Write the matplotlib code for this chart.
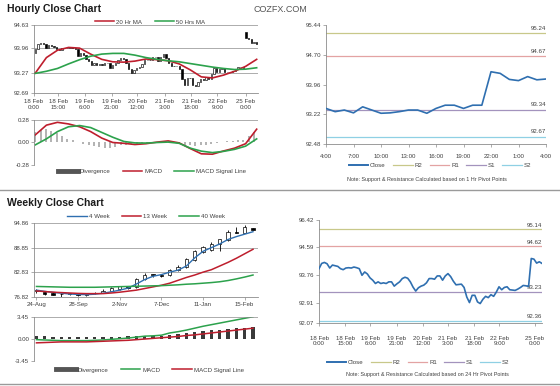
import numpy as np
import matplotlib
matplotlib.use("Agg")
import matplotlib.pyplot as plt
from matplotlib.lines import Line2D

plt.rcParams["font.family"] = ["Liberation Sans", "DejaVu Sans"]

W, H = 560, 386

# ---- hourly closes, 18 Feb 0:00 -> 25 Feb (shared by candles and 24 hr pivot chart)
hour_close = [93.94, 94.10, 94.13, 94.09, 93.96, 94.05, 94.03, 94.01, 93.94, 93.91,
              93.96, 93.97, 93.96, 93.99, 93.97, 93.94, 93.74, 93.84, 93.78, 93.66,
              93.59, 93.49, 93.54, 93.49, 93.51, 93.49, 93.54, 93.54, 93.41, 93.48,
              93.54, 93.64, 93.68, 93.65, 93.54, 93.38, 93.26, 93.36, 93.41, 93.44,
              93.51, 93.64, 93.64, 93.62, 93.72, 93.72, 93.59, 93.72, 93.79, 93.70,
              93.56, 93.45, 93.46, 93.47, 93.37, 93.08, 92.91, 93.13, 93.13, 92.93,
              92.88, 93.01, 93.10, 93.06, 93.15, 93.10, 93.23, 93.39, 93.30, 93.37,
              93.39, 93.30, 93.29, 93.28, 93.32, 93.37, 93.43, 93.42, 93.40, 94.25,
              94.23, 94.11, 94.15, 94.10]
hour_open = [93.84, 93.94, 94.10, 94.13, 94.09, 93.96, 94.05, 94.03, 94.01, 93.94,
             93.91, 93.96, 93.97, 93.96, 93.99, 93.97, 93.94, 93.74, 93.84, 93.78,
             93.66, 93.59, 93.49, 93.54, 93.49, 93.51, 93.49, 93.54, 93.54, 93.41,
             93.48, 93.54, 93.64, 93.68, 93.65, 93.54, 93.38, 93.26, 93.36, 93.41,
             93.44, 93.51, 93.64, 93.64, 93.62, 93.72, 93.72, 93.59, 93.72, 93.79,
             93.70, 93.56, 93.45, 93.46, 93.47, 93.37, 93.08, 92.91, 93.13, 93.13,
             92.93, 92.88, 93.01, 93.10, 93.06, 93.15, 93.10, 93.23, 93.39, 93.30,
             93.37, 93.39, 93.30, 93.29, 93.28, 93.32, 93.37, 93.43, 93.42, 94.42,
             94.25, 94.23, 94.11, 94.15]
hour_labels = ["18 Feb\n0:00", "18 Feb\n15:00", "19 Feb\n6:00", "19 Feb\n21:00",
               "20 Feb\n12:00", "21 Feb\n3:00", "21 Feb\n18:00", "22 Feb\n9:00",
               "25 Feb\n0:00"]

# moving averages / MACD, read every ~4 hours
ma_20hr = [93.26, 93.70, 93.91, 93.99, 93.97, 93.80, 93.65, 93.58, 93.57, 93.60, 93.66,
           93.64, 93.61, 93.52, 93.35, 93.15, 93.12, 93.20, 93.31, 93.45, 93.65]
ma_50hr = [93.25, 93.31, 93.39, 93.52, 93.64, 93.74, 93.80, 93.82, 93.82, 93.77, 93.70,
           93.65, 93.61, 93.58, 93.53, 93.48, 93.43, 93.39, 93.36, 93.37, 93.41]
hour_macd = [0.09, 0.21, 0.245, 0.225, 0.19, 0.13, 0.05, -0.005, -0.015, -0.03, -0.02,
             0.0, 0.015, -0.01, -0.08, -0.145, -0.15, -0.11, -0.075, -0.02, 0.16]
hour_signal = [-0.034, 0.04, 0.13, 0.19, 0.205, 0.18, 0.12, 0.06, 0.008, -0.01, -0.012,
               -0.005, 0.0, -0.015, -0.075, -0.112, -0.13, -0.115, -0.09, -0.05, 0.04]
# divergence, every 2 hours
hour_div = [0.12, 0.15, 0.16, 0.14, 0.11, 0.07, 0.04, 0.02, 0.0, -0.02, -0.04, -0.05,
            -0.06, -0.07, -0.07, -0.06, -0.04, -0.03, -0.02, -0.02, -0.01, -0.01, 0.0,
            0.005, 0.01, 0.015, 0.005, -0.01, -0.03, -0.04, -0.05, -0.04, -0.03, -0.02,
            -0.01, 0.005, 0.01, 0.015, 0.02, 0.03, 0.08, 0.12]

# ---- last 24 hours, 1 hr pivots
one_hr_close = [93.37, 93.29, 93.33, 93.26, 93.41, 93.33, 93.25, 93.26, 93.29, 93.33,
                93.33, 93.25, 93.37, 93.45, 93.45, 93.37, 93.45, 93.45, 94.28, 94.24,
                94.09, 94.06, 94.16, 94.08, 94.10]
one_hr_labels = ["4:00", "7:00", "10:00", "13:00", "16:00", "19:00", "22:00", "1:00", "4:00"]
one_hr_levels = [95.24, 94.67, 93.34, 92.67]   # R2, R1, S1, S2
day_levels = [95.14, 94.62, 93.23, 92.36]      # 24 hr pivots
level_names = ["R2", "R1", "S1", "S2"]

# ---- weekly candles
week_labels = ["24-Aug", "28-Sep", "2-Nov", "7-Dec", "11-Jan", "15-Feb"]
week_open = [78.3, 78.0, 77.8, 77.5, 77.5, 77.7, 77.3, 77.7, 77.9, 78.4, 78.7, 79.4, 79.3,
             81.2, 82.4, 82.2, 82.1, 83.5, 84.1, 85.9, 87.9, 88.3, 89.7, 90.8, 92.8, 92.6, 93.6]
week_close = [78.6, 77.5, 77.3, 77.6, 77.7, 77.3, 77.7, 77.9, 78.4, 79.1, 79.4, 79.0, 81.2,
              82.3, 82.2, 82.0, 83.5, 84.2, 86.0, 88.0, 89.1, 89.9, 90.9, 92.8, 92.6, 93.9, 93.2]
week_high = [78.9, 78.2, 78.1, 77.8, 77.9, 77.9, 77.9, 78.1, 78.7, 79.3, 79.6, 79.6, 81.5,
             82.6, 82.5, 82.4, 83.7, 84.6, 86.4, 88.3, 89.4, 90.2, 91.1, 93.1, 93.9, 94.4, 93.7]
week_low = [77.9, 77.4, 77.2, 76.4, 77.2, 77.0, 77.1, 77.5, 77.8, 78.2, 78.5, 78.8, 79.0,
            81.0, 81.8, 81.6, 82.0, 83.2, 83.9, 85.6, 87.5, 88.0, 88.0, 90.5, 92.4, 92.4, 93.1]
ma_4wk = [78.5, 78.2, 77.95, 77.75, 77.55, 77.45, 77.4, 77.5, 77.75, 78.1, 78.5, 79.0, 80.0,
          81.1, 81.9, 82.3, 82.9, 83.4, 84.4, 86.4, 88.0, 88.9, 89.8, 90.9, 91.6, 92.2, 92.8]
ma_13wk = [78.3, 78.15, 78.0, 77.9, 77.8, 77.7, 77.65, 77.65, 77.65, 77.8, 78.0, 78.25, 78.5,
           78.9, 79.3, 79.7, 80.2, 80.9, 81.6, 82.2, 82.9, 83.5, 84.4, 85.3, 86.3, 87.4, 88.5]
ma_40wk = [79.4, 79.35, 79.3, 79.25, 79.2, 79.2, 79.2, 79.2, 79.25, 79.3, 79.35, 79.4, 79.45,
           79.5, 79.55, 79.6, 79.7, 79.8, 79.95, 80.05, 80.2, 80.35, 80.55, 80.85, 81.25, 81.7, 82.2]
week_macd = [-0.15, -0.2, -0.25, -0.3, -0.3, -0.3, -0.3, -0.25, -0.2, -0.1, 0.0, 0.1, 0.25,
             0.4, 0.45, 0.55, 0.9, 1.1, 1.35, 1.65, 1.95, 2.2, 2.45, 2.7, 2.95, 3.2, 3.45]
week_signal = [-0.65, -0.6, -0.55, -0.5, -0.5, -0.5, -0.5, -0.45, -0.4, -0.35, -0.3, -0.25,
               -0.15, -0.05, 0.05, 0.15, 0.25, 0.35, 0.5, 0.6, 0.75, 0.9, 1.05, 1.2, 1.35, 1.5, 1.65]
week_div = [0.5, 0.4, 0.3, 0.2, 0.2, 0.2, 0.2, 0.2, 0.2, 0.25, 0.3, 0.35, 0.4, 0.45, 0.45,
            0.5, 0.65, 0.75, 0.85, 1.05, 1.2, 1.3, 1.4, 1.5, 1.6, 1.7, 1.8]

RED = "#be1e2d"
GREEN = "#2ca24c"
BLUE = "#2f6fb0"
LEVEL_COLORS = ["#c8c88a", "#e3a3a3", "#a393bd", "#8fd0e4"]
AXIS = "#8c8c8c"
TXT = "#404040"
FS = 4.4

fig = plt.figure(figsize=(W / 100, H / 100), dpi=100)


def px_axes(x0, y0, x1, y1):
    return fig.add_axes([x0 / W, 1 - y1 / H, (x1 - x0) / W, (y1 - y0) / H])


def style(ax, grid=False, bottom=True):
    for s in ["top", "right"]:
        ax.spines[s].set_visible(False)
    ax.spines["left"].set_color(AXIS)
    ax.spines["left"].set_linewidth(0.6)
    ax.spines["bottom"].set_visible(bottom)
    ax.spines["bottom"].set_color(AXIS)
    ax.spines["bottom"].set_linewidth(0.6)
    ax.tick_params(labelsize=FS, length=2, width=0.5, color=AXIS, labelcolor=TXT, pad=1.5)
    if grid:
        ax.yaxis.grid(True, color=AXIS, lw=0.5)
        ax.set_axisbelow(True)


def candles(ax, x, o, c, hi, lo, width, lw=0.5, wick=True):
    o, c = np.asarray(o), np.asarray(c)
    if wick:
        ax.vlines(x, lo, hi, color="black", lw=0.6, zorder=3)
    up = c >= o
    ax.bar(x[up], (c - o)[up], bottom=o[up], width=width, color="white",
           edgecolor="black", lw=lw, zorder=4)
    ax.bar(x[~up], (o - c)[~up], bottom=c[~up], width=width, color="black",
           edgecolor="black", lw=lw, zorder=4)


def legend(ax, handles, labels, x, y, spacing=2.0):
    ax.legend(handles, labels, loc="center", bbox_to_anchor=(x / W, 1 - y / H),
              bbox_transform=fig.transFigure, ncol=len(labels), frameon=False,
              fontsize=FS, handlelength=3.2, handletextpad=0.3, columnspacing=spacing,
              labelcolor=TXT)


def levels(ax, vals, x_end, offset):
    for v, col in zip(vals, LEVEL_COLORS):
        ax.axhline(v, color=col, lw=0.9, zorder=1)
        ax.text(x_end, v + offset, f"{v:.2f}", ha="right", va="bottom", fontsize=FS, color=TXT)


hx = np.arange(len(hour_close))
mx = np.linspace(0, len(hour_close) - 1, len(ma_20hr))
dx = np.arange(0, len(hour_close), 2)[:len(hour_div)]

# ================= Hourly candles =================
fig.text(7 / W, 1 - 9 / H, "Hourly Close Chart", fontsize=7.5, fontweight="bold",
         va="center", color="#1a1a1a")
fig.text(253 / W, 1 - 10 / H, "COZFX.COM", fontsize=6.5, va="center", color="#555555")

ax1 = px_axes(34, 25, 258, 93)
style(ax1, grid=True)
candles(ax1, hx, hour_open, hour_close, None, None, 0.4, lw=0.45, wick=False)
ax1.plot(mx, ma_20hr, color=RED, lw=1.2, zorder=5)
ax1.plot(mx, ma_50hr, color=GREEN, lw=1.2, zorder=5)
ax1.set_xlim(-0.5, 83.5)
ax1.set_ylim(92.69, 94.63)
ax1.set_yticks([92.69, 93.27, 93.96, 94.63], ["92.69", "93.27", "93.96", "94.63"])
hour_tick_pos = [-0.5, 8.6, 18.6, 28.6, 38.2, 48.6, 58.4, 68.2, 78.9]
ax1.set_xticks(hour_tick_pos, hour_labels, linespacing=1.15)
ax1.tick_params(axis="x", pad=2.5)
legend(ax1, [Line2D([], [], color=RED, lw=1.1), Line2D([], [], color=GREEN, lw=1.1)],
       ["20 Hr MA", "50 Hrs MA"], 150, 22)

ax2 = px_axes(34, 119.5, 258, 164.7)
style(ax2, bottom=False)
ax2.bar(dx, hour_div, width=0.7, color="#b4b4b4", lw=0)
ax2.plot(mx, hour_macd, color=RED, lw=1.2)
ax2.plot(mx, hour_signal, color=GREEN, lw=1.2)
ax2.axhline(0.28, color=AXIS, lw=0.5)
ax2.set_xlim(-0.5, 83.5)
ax2.set_ylim(-0.28, 0.28)
ax2.set_yticks([-0.28, 0.0, 0.28], ["-0.28", "0.00", "0.28"])
ax2.set_xticks([])
legend(ax2, [Line2D([], [], color="#555555", lw=3.5), Line2D([], [], color=RED, lw=1.1),
             Line2D([], [], color=GREEN, lw=1.1)],
       ["Divergence", "MACD", "MACD Signal Line"], 152, 171.5)

# ================= Hourly right: 1 hr pivots =================
ax3 = px_axes(326, 25, 546, 144.3)
style(ax3)
levels(ax3, one_hr_levels, 24, 0.06)
ax3.plot(np.arange(len(one_hr_close)), one_hr_close, color=BLUE, lw=1.2, zorder=3)
ax3.set_xlim(0, 24)
ax3.set_ylim(92.48, 95.44)
ax3.set_yticks([92.48, 93.22, 93.96, 94.70, 95.44],
               ["92.48", "93.22", "93.96", "94.70", "95.44"])
ax3.set_xticks(np.arange(0, 25, 3), one_hr_labels)
ax3.tick_params(axis="x", pad=5)
leg_handles = [Line2D([], [], color=BLUE, lw=1.4)] + \
              [Line2D([], [], color=c, lw=0.9) for c in LEVEL_COLORS]
legend(ax3, leg_handles, ["Close"] + level_names, 440, 165, spacing=1.2)
fig.text(427 / W, 1 - 179.5 / H,
         "Note: Support & Resistance Calculated based on 1 Hr Pivot Points",
         fontsize=3.9, ha="center", va="center", color=TXT)

fig.add_artist(Line2D([0, 1], [1 - 190 / H, 1 - 190 / H], color="#9a9a9a", lw=1.0))
fig.add_artist(Line2D([0, 1], [1 - 384 / H, 1 - 384 / H], color="#9a9a9a", lw=1.0))

# ================= Weekly candles =================
fig.text(7 / W, 1 - 203 / H, "Weekly Close Chart", fontsize=7.5, fontweight="bold",
         va="center", color="#1a1a1a")
wx = np.arange(len(week_close))
ax4 = px_axes(34, 223.3, 258, 297)
style(ax4, grid=True)
candles(ax4, wx, week_open, week_close, week_high, week_low, 0.4)
ax4.plot(wx, ma_4wk, color=BLUE, lw=1.0, zorder=5)
ax4.plot(wx, ma_13wk, color=RED, lw=1.1, zorder=5)
ax4.plot(wx, ma_40wk, color=GREEN, lw=1.1, zorder=5)
ax4.set_xlim(-0.3, 26.6)
ax4.set_ylim(76.82, 94.86)
ax4.set_yticks([76.82, 82.83, 88.85, 94.86], ["76.82", "82.83", "88.85", "94.86"])
ax4.set_xticks(np.arange(0, 26, 5), week_labels)
legend(ax4, [Line2D([], [], color=BLUE, lw=1.0), Line2D([], [], color=RED, lw=1.1),
             Line2D([], [], color=GREEN, lw=1.1)],
       ["4 Week", "13 Week", "40 Week"], 146, 216)

ax5 = px_axes(34, 316.7, 258, 360.7)
style(ax5, bottom=False)
ax5.bar(wx, week_div, width=0.4, color="#3a3a3a", lw=0)
ax5.plot(wx, week_macd, color=GREEN, lw=1.1)
ax5.plot(wx, week_signal, color=RED, lw=1.1)
ax5.axhline(3.45, color=AXIS, lw=0.5)
ax5.set_xlim(-0.3, 26.6)
ax5.set_ylim(-3.45, 3.45)
ax5.set_yticks([-3.45, 0.0, 3.45], ["-3.45", "0.00", "3.45"])
ax5.set_xticks([])
legend(ax5, [Line2D([], [], color="#555555", lw=3.5), Line2D([], [], color=GREEN, lw=1.1),
             Line2D([], [], color=RED, lw=1.1)],
       ["Divergence", "MACD", "MACD Signal Line"], 150, 370)

# ================= Weekly right: 24 hr pivots =================
ax6 = px_axes(319, 220, 542, 323.3)
style(ax6)
levels(ax6, day_levels, 83, 0.05)
ax6.plot(hx, hour_close, color=BLUE, lw=1.2, zorder=3)
ax6.set_xlim(0, 83)
ax6.set_ylim(92.28, 95.42)
ax6.set_yticks([92.28, 92.91, 93.76, 94.59, 95.42],
               ["92.07", "92.91", "93.76", "94.59", "96.42"])
ax6.set_xticks([0, 9.75, 19.1, 28.9, 38.6, 48, 57.75, 67.1, 80.25], hour_labels,
               linespacing=1.15)
ax6.tick_params(axis="x", pad=7)
legend(ax6, leg_handles, ["Close"] + level_names, 418, 362, spacing=1.2)
fig.text(427 / W, 1 - 374.5 / H,
         "Note: Support & Resistance Calculated based on 24 Hr Pivot Points",
         fontsize=3.9, ha="center", va="center", color=TXT)

fig.savefig("out.png", dpi=100)
